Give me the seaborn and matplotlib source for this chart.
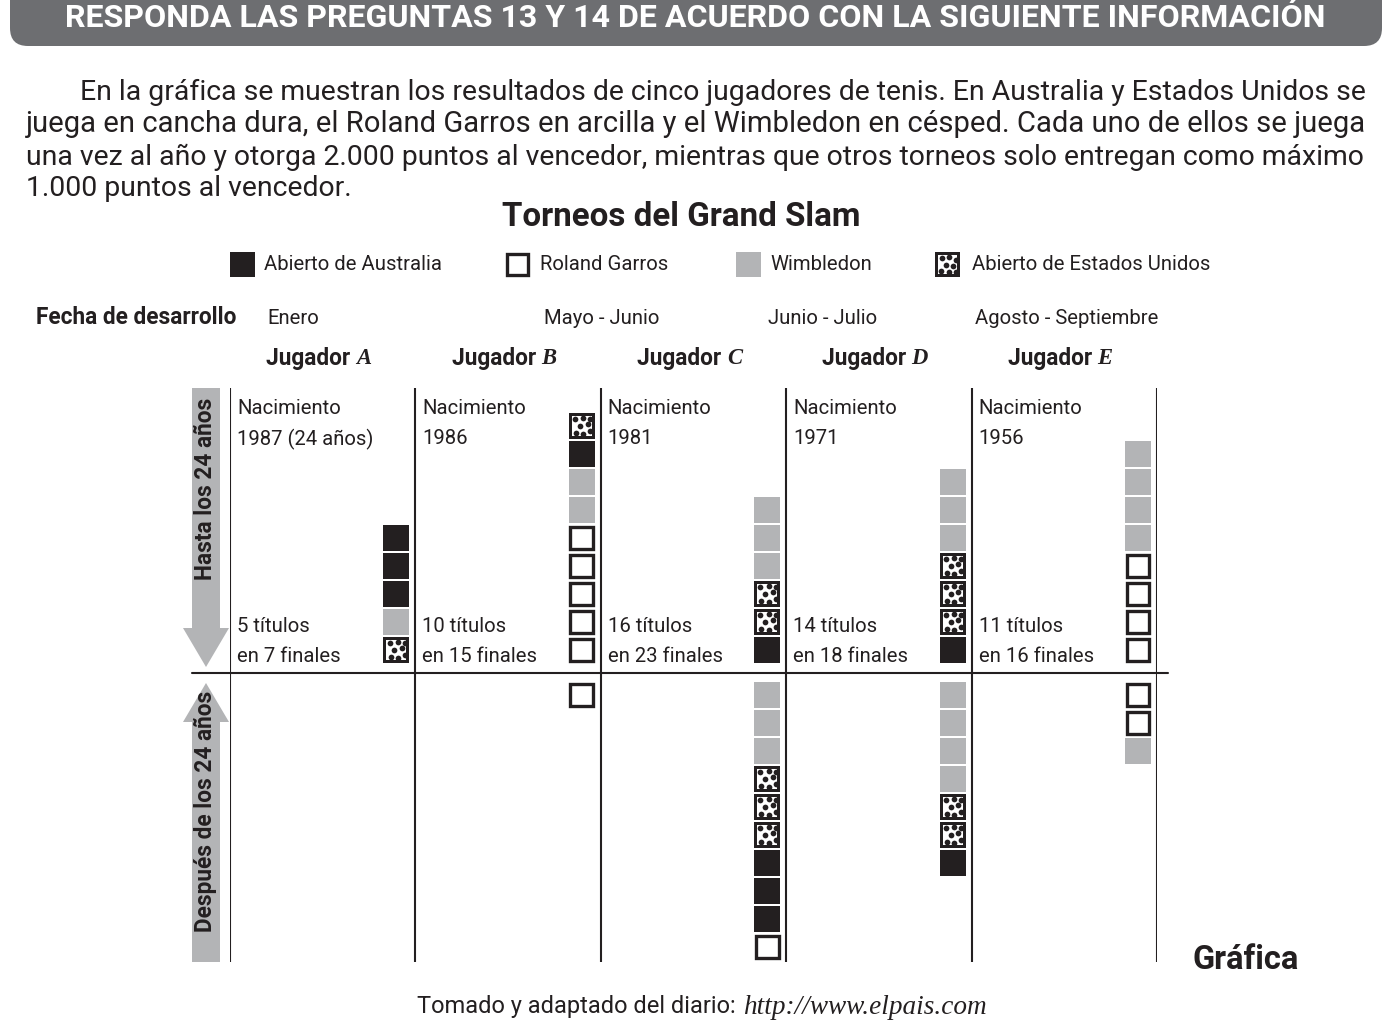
import matplotlib
matplotlib.use("Agg")
import matplotlib.pyplot as plt
from matplotlib import font_manager
from matplotlib.patches import Rectangle, FancyBboxPatch, Polygon
import seaborn as sns

sns.set_theme(style="white")
names = {f.name for f in font_manager.fontManager.ttflist}
FONT = 'Liberation Sans Narrow' if 'Liberation Sans Narrow' in names else 'Roboto'
plt.rcParams['font.family'] = [FONT, 'DejaVu Sans']

DARK = '#231f20'
GRAY = '#b3b4b6'
BANNER = '#6d6e71'

# data
players = ['A', 'B', 'C', 'D', 'E']
births = ['1987 (24 años)', '1986', '1981', '1971', '1956']
titles = [5, 10, 16, 14, 11]
finals = [7, 15, 23, 18, 16]
months = ['Enero', 'Mayo - Junio', 'Junio - Julio', 'Agosto - Septiembre']
tourn_keys = ['AUS', 'RG', 'WIM', 'USO']
tourn_names = ['Abierto de Australia', 'Roland Garros', 'Wimbledon', 'Abierto de Estados Unidos']
# titles won, listed top -> bottom in each stack
before_24 = [
    ['AUS', 'AUS', 'AUS', 'WIM', 'USO'],
    ['USO', 'AUS', 'WIM', 'WIM', 'RG', 'RG', 'RG', 'RG', 'RG'],
    ['WIM', 'WIM', 'WIM', 'USO', 'USO', 'AUS'],
    ['WIM', 'WIM', 'WIM', 'USO', 'USO', 'USO', 'AUS'],
    ['WIM', 'WIM', 'WIM', 'WIM', 'RG', 'RG', 'RG', 'RG'],
]
after_24 = [
    [],
    ['RG'],
    ['WIM', 'WIM', 'WIM', 'USO', 'USO', 'USO', 'AUS', 'AUS', 'AUS', 'RG'],
    ['WIM', 'WIM', 'WIM', 'WIM', 'USO', 'USO', 'AUS'],
    ['RG', 'RG', 'WIM'],
]

W, H = 1390, 1025
fig = plt.figure(figsize=(W / 100, H / 100), dpi=100, facecolor='white')
ov = fig.add_axes([0, 0, 1, 1])
ov.set_xlim(0, W)
ov.set_ylim(H, 0)
ov.axis('off')
renderer = fig.canvas.get_renderer()


def fit_text(axis, x, y, s, width, vertical=False, **kw):
    # scale the font so the text covers the given pixel width
    t = axis.text(x, y, s, fontsize=10, **kw)
    bb = t.get_window_extent(renderer)
    size = bb.height if vertical else bb.width
    t.set_fontsize(10 * width / size)
    return t


DOTS = [(0.28, 0.25), (0.56, 0.2), (0.82, 0.3), (0.42, 0.5), (0.72, 0.56),
        (0.24, 0.76), (0.55, 0.8), (0.82, 0.78)]


def square(axis, x, y, w, h, kind):
    sx, sy = w / 26.0, h / 26.0
    if kind == 'AUS':
        axis.add_patch(Rectangle((x, y), w, h, fc=DARK, ec='none', zorder=3))
    elif kind == 'WIM':
        axis.add_patch(Rectangle((x, y), w, h, fc=GRAY, ec='none', zorder=3))
    elif kind == 'RG':
        axis.add_patch(Rectangle((x + 1.6 * sx, y + 1.6 * sy), w - 3.2 * sx, h - 3.2 * sy,
                                 fc='white', ec=DARK, lw=2.4, zorder=3))
    else:
        axis.add_patch(Rectangle((x, y), w, h, fc=DARK, ec='none', zorder=3))
        axis.add_patch(Rectangle((x + 3 * sx, y + 3 * sy), w - 6 * sx, h - 6 * sy,
                                 fc='white', ec='none', zorder=3))
        axis.scatter([x + fx * w for fx, fy in DOTS], [y + fy * h for fx, fy in DOTS],
                     s=17, color=DARK, lw=0, zorder=4)


# header banner
ov.add_patch(FancyBboxPatch((10, -40), 1372, 86, boxstyle='round,pad=0,rounding_size=18',
                            fc=BANNER, ec='none'))
fit_text(ov, 65, 18, 'RESPONDA LAS PREGUNTAS 13 Y 14 DE ACUERDO CON LA SIGUIENTE INFORMACIÓN',
         1260, color='white', weight='bold', va='center')

# paragraph
lines = ['En la gráfica se muestran los resultados de cinco jugadores de tenis. En Australia y Estados Unidos se',
         'juega en cancha dura, el Roland Garros en arcilla y el Wimbledon en césped. Cada uno de ellos se juega',
         'una vez al año y otorga 2.000 puntos al vencedor, mientras que otros torneos solo entregan como máximo',
         '1.000 puntos al vencedor.']
starts = [80, 26, 26, 26]
ys = [92, 124, 157, 189]
size = 10
for s, x0, y in zip(lines[:3], starts, ys):
    t = fit_text(ov, x0, y, s, 1364 - x0, color=DARK, va='center')
    size = t.get_fontsize()
ov.text(26, ys[3], lines[3], fontsize=size, color=DARK, va='center')

fit_text(ov, 502, 217, 'Torneos del Grand Slam', 359, color=DARK, weight='bold', va='center')

# legend
body = fit_text(ov, 972, 264, tourn_names[3], 238, color=DARK, va='center').get_fontsize()
leg_sq = [230, 505, 736, 935]
leg_tx = [264, 540, 770, 972]
for k, key in enumerate(tourn_keys):
    square(ov, leg_sq[k], 252, 25, 25, key)
    if k < 3:
        ov.text(leg_tx[k], 264, tourn_names[k], fontsize=body, color=DARK, va='center')

# dates row
bold = fit_text(ov, 36, 318, 'Fecha de desarrollo', 201, color=DARK, weight='bold',
                va='center').get_fontsize()
for x, m in zip([267, 544, 768, 975], months):
    ov.text(x, 318, m, fontsize=body, color=DARK, va='center')

# chart axes: x = player column, y = title slot relative to the 24 year line
X0, X1, Y0, Y1, YMID, PITCH = 230, 1157, 388, 962, 673, 28
COLW = (X1 - X0) / len(players)
ax = fig.add_axes([X0 / W, 1 - Y1 / H, (X1 - X0) / W, (Y1 - Y0) / H])
ax.set_xlim(0, len(players))
ax.set_ylim(-(Y1 - YMID) / PITCH, (YMID - Y0) / PITCH)
ax.axis('off')
sx = 1 / COLW
sq_w, sq_h = 26 * sx, 26 / PITCH

for i in range(len(players) + 1):
    ax.axvline(i, color=DARK, lw=1.5, zorder=2)

for i, p in enumerate(players):
    xl = i + 1 - 32 * sx
    for k, key in enumerate(reversed(before_24[i])):
        square(ax, xl, 10 / PITCH + k, sq_w, sq_h, key)
    for j, key in enumerate(after_24[i]):
        square(ax, xl, -(9 / PITCH + j) - sq_h, sq_w, sq_h, key)

    tx = i + 7 * sx
    ax.text(tx, (YMID - 409) / PITCH, 'Nacimiento', fontsize=body, color=DARK, va='center')
    ax.text(tx, (YMID - 439) / PITCH, births[i], fontsize=body, color=DARK, va='center')
    ax.text(tx, (YMID - 627) / PITCH, f'{titles[i]} títulos', fontsize=body, color=DARK, va='center')
    ax.text(tx, (YMID - 656) / PITCH, f'en {finals[i]} finales', fontsize=body, color=DARK, va='center')

    # column header "Jugador X"
    cx = X0 + (i + 0.5) * COLW - 4
    t1 = ov.text(0, 359, 'Jugador ', fontsize=bold, weight='bold', color=DARK, va='center')
    t2 = ov.text(0, 359, p, fontsize=bold, family='Liberation Serif', style='italic',
                 weight='bold', color=DARK, va='center')
    w1 = t1.get_window_extent(renderer).width
    w2 = t2.get_window_extent(renderer).width
    t1.set_x(cx - (w1 + w2) / 2)
    t2.set_x(cx - (w1 + w2) / 2 + w1)

# 24 year line
ov.plot([192, 1168], [YMID, YMID], color=DARK, lw=1.5)

# arrows
ov.add_patch(Polygon([(192, 388), (220, 388), (220, 628), (229, 628), (206, 667),
                      (183, 628), (192, 628)], closed=True, fc=GRAY, ec='none'))
ov.add_patch(Polygon([(206, 683), (229, 722), (220, 722), (220, 962), (192, 962),
                      (192, 722), (183, 722)], closed=True, fc=GRAY, ec='none'))
fit_text(ov, 205, 489, 'Hasta los 24 años', 182, vertical=True, rotation=90,
         weight='bold', color=DARK, ha='center', va='center')
fit_text(ov, 205, 811, 'Después de los 24 años', 242, vertical=True, rotation=90,
         weight='bold', color=DARK, ha='center', va='center')

# footer
fit_text(ov, 1193, 960, 'Gráfica', 107, weight='bold', color=DARK, va='center')
fit_text(ov, 417, 1007, 'Tomado y adaptado del diario:', 318, color=DARK, va='center')
fit_text(ov, 743, 1007, 'http://www.elpais.com', 244, family='Liberation Serif',
         style='italic', color=DARK, va='center')

fig.savefig('out.png', dpi=100, facecolor='white')
